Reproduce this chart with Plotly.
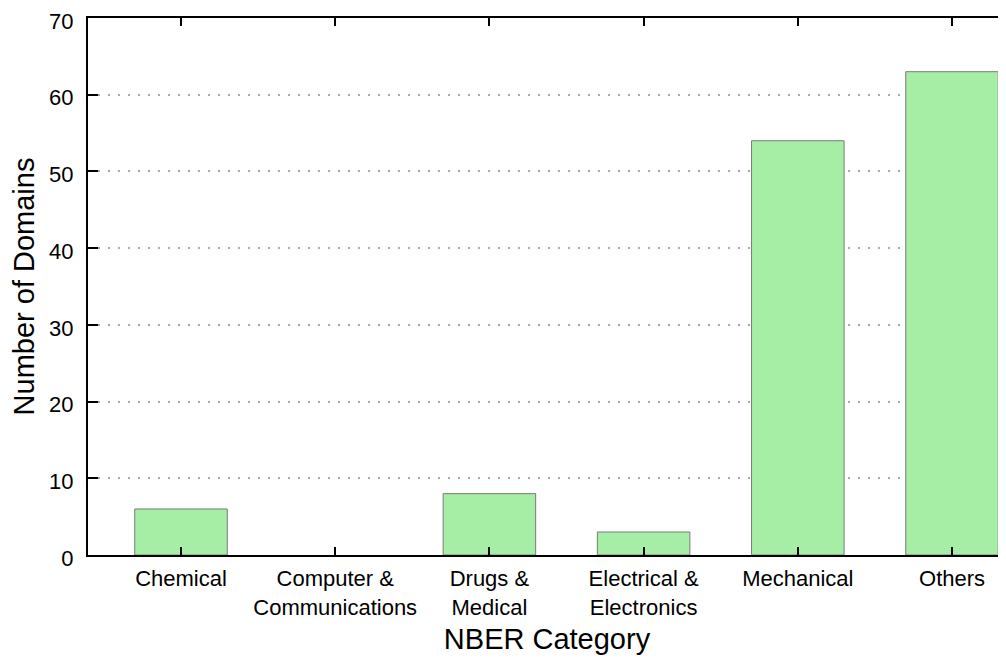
import plotly.graph_objects as go

categories = ["Chemical", "Computer &<br>Communications", "Drugs &<br>Medical",
              "Electrical &<br>Electronics", "Mechanical", "Others"]
domains = [6, 0, 8, 3, 54, 63]
y_ticks = [0, 10, 20, 30, 40, 50, 60, 70]

line_widths = [1 if v > 0 else 0 for v in domains]

fig = go.Figure()
fig.add_trace(go.Bar(
    x=list(range(len(categories))), y=domains, width=0.6,
    marker=dict(color="#a6eea6", line=dict(color="#7a7a7a", width=line_widths)),
))

font = "Liberation Sans, Arial, sans-serif"
# page body has an 8px margin; compensate so plot area sits at x 88..1006, y ~18..555
fig.update_layout(
    width=998, height=651,
    margin=dict(l=80, r=0, t=10, b=104),
    paper_bgcolor="white", plot_bgcolor="white",
    showlegend=False,
    font=dict(family=font, color="black", size=22),
    xaxis=dict(
        range=[-0.603, 5.35], tickmode="array",
        tickvals=list(range(len(categories))), ticktext=categories,
        ticks="inside", ticklen=8, tickwidth=2, tickcolor="black",
        showline=True, linecolor="black", linewidth=2, mirror="ticks",
        showgrid=False, zeroline=False, automargin=False,
        tickfont=dict(size=22), ticklabelstandoff=3,
        title=dict(text="NBER Category", font=dict(size=29), standoff=10),
    ),
    yaxis=dict(
        range=[0, 70], tickmode="array", tickvals=y_ticks,
        ticks="inside", ticklen=10, tickwidth=2, tickcolor="black",
        showline=True, linecolor="black", linewidth=2, mirror=False,
        showgrid=True, gridcolor="#aaaaaa", gridwidth=1.5, griddash="2px,8px",
        zeroline=False, ticklabeloverflow="allow", automargin=False,
        tickfont=dict(size=22), ticklabelstandoff=8, ticklabelshift=3,
        title=dict(text="Number of Domains", font=dict(size=29), standoff=11),
    ),
)

fig.write_html("out.html")
